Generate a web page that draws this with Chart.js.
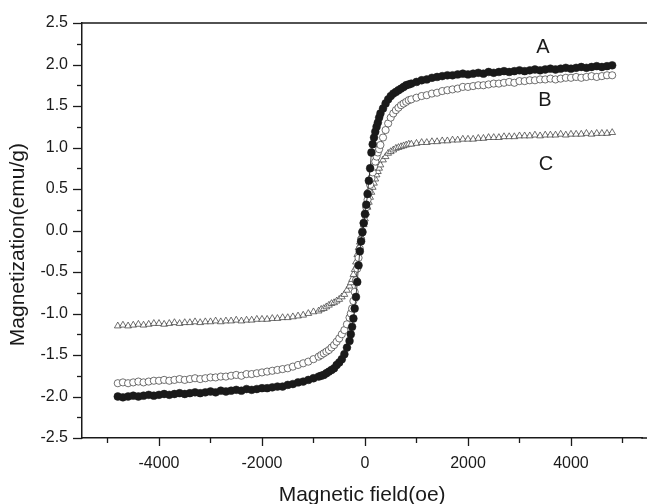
<!DOCTYPE html>
<html>
<head>
<meta charset="utf-8">
<script src="https://cdn.jsdelivr.net/npm/chart.js@4/dist/chart.umd.min.js"></script>
<style>
  html, body { margin: 0; padding: 0; background: #fff; }
  canvas { display: block; }
</style>
</head>
<body>
<canvas id="c" width="647" height="504"></canvas>
<script>
// Magnetic field (Oe) sample positions
const fieldOe = [
  -4800,-4700,-4600,-4500,-4400,-4300,-4200,-4100,-4000,-3900,-3800,-3700,-3600,-3500,-3400,-3300,-3200,-3100,-3000,-2900,
  -2800,-2700,-2600,-2500,-2400,-2300,-2200,-2100,-2000,-1900,-1800,-1700,-1600,-1500,-1400,-1300,-1200,-1100,-1000,
  -900,-850,-800,-750,-700,-650,-600,-550,-500,-450,-400,-350,
  -300,-275,-250,-225,-200,-175,-150,-125,-100,-75,-50,-25,0,25,50,75,100,125,150,175,200,225,250,275,300,
  350,400,450,500,550,600,650,700,750,800,850,900,
  1000,1100,1200,1300,1400,1500,1600,1700,1800,1900,2000,2100,2200,2300,2400,2500,2600,2700,2800,2900,
  3000,3100,3200,3300,3400,3500,3600,3700,3800,3900,4000,4100,4200,4300,4400,4500,4600,4700,4800
];

// Sample A (filled circles), emu/g
const magA = [
  -2.00,-2.01,-2.00,-1.99,-2.00,-1.99,-1.98,-1.99,-1.98,-1.97,-1.98,-1.97,-1.96,-1.97,-1.96,-1.95,-1.96,-1.95,-1.94,-1.95,
  -1.93,-1.94,-1.93,-1.92,-1.93,-1.91,-1.92,-1.91,-1.90,-1.90,-1.89,-1.88,-1.88,-1.86,-1.85,-1.83,-1.82,-1.80,-1.78,
  -1.76,-1.75,-1.74,-1.72,-1.70,-1.68,-1.66,-1.62,-1.59,-1.55,-1.49,-1.41,
  -1.33,-1.25,-1.16,-1.06,-0.94,-0.80,-0.62,-0.42,-0.25,-0.13,-0.02,0.09,0.20,0.31,0.44,0.60,0.75,0.94,1.04,1.12,1.19,1.25,1.30,1.36,1.41,
  1.47,1.53,1.58,1.62,1.65,1.67,1.69,1.71,1.73,1.75,1.76,1.77,
  1.79,1.81,1.82,1.84,1.85,1.86,1.87,1.87,1.88,1.89,1.88,1.89,1.90,1.89,1.91,1.90,1.91,1.92,1.91,1.92,
  1.93,1.92,1.93,1.94,1.93,1.94,1.95,1.94,1.95,1.96,1.95,1.96,1.97,1.96,1.97,1.98,1.97,1.98,1.99
];

// Sample B (open circles), emu/g
const magB = [
  -1.84,-1.83,-1.84,-1.83,-1.82,-1.83,-1.82,-1.81,-1.81,-1.80,-1.81,-1.80,-1.79,-1.80,-1.79,-1.78,-1.79,-1.78,-1.77,-1.77,
  -1.76,-1.76,-1.75,-1.74,-1.75,-1.73,-1.73,-1.72,-1.71,-1.70,-1.69,-1.68,-1.67,-1.66,-1.64,-1.62,-1.60,-1.58,-1.55,
  -1.52,-1.50,-1.48,-1.46,-1.44,-1.41,-1.38,-1.34,-1.30,-1.25,-1.20,-1.13,
  -1.05,-1.00,-0.94,-0.85,-0.74,-0.60,-0.46,-0.33,-0.22,-0.11,-0.01,0.09,0.19,0.28,0.37,0.46,0.55,0.63,0.70,0.77,0.83,0.89,0.94,0.98,1.03,
  1.12,1.21,1.29,1.36,1.41,1.45,1.48,1.51,1.53,1.55,1.57,1.58,
  1.60,1.62,1.63,1.65,1.66,1.68,1.69,1.70,1.71,1.73,1.73,1.74,1.75,1.75,1.76,1.77,1.77,1.78,1.79,1.78,
  1.80,1.80,1.81,1.81,1.82,1.82,1.83,1.82,1.83,1.84,1.84,1.85,1.84,1.85,1.86,1.85,1.86,1.87,1.87
];

// Sample C (open triangles), emu/g
const magC = [
  -1.15,-1.14,-1.15,-1.14,-1.13,-1.14,-1.13,-1.12,-1.12,-1.13,-1.12,-1.11,-1.12,-1.11,-1.11,-1.10,-1.11,-1.10,-1.10,-1.09,
  -1.10,-1.09,-1.09,-1.08,-1.09,-1.08,-1.08,-1.07,-1.07,-1.07,-1.06,-1.06,-1.05,-1.05,-1.04,-1.03,-1.02,-1.00,-0.98,
  -0.97,-0.95,-0.94,-0.92,-0.90,-0.88,-0.87,-0.85,-0.83,-0.80,-0.77,-0.72,
  -0.67,-0.63,-0.59,-0.53,-0.47,-0.38,-0.29,-0.21,-0.14,-0.07,0.00,0.07,0.14,0.21,0.28,0.34,0.40,0.46,0.52,0.57,0.62,0.67,0.71,0.75,0.79,
  0.85,0.89,0.93,0.95,0.97,0.99,1.00,1.01,1.02,1.03,1.04,1.04,
  1.05,1.06,1.06,1.07,1.07,1.08,1.08,1.09,1.09,1.10,1.10,1.10,1.11,1.11,1.12,1.12,1.12,1.13,1.13,1.13,
  1.14,1.14,1.14,1.15,1.14,1.15,1.15,1.15,1.16,1.15,1.16,1.16,1.16,1.17,1.16,1.17,1.17,1.17,1.18
];

const seriesNames = ['A', 'B', 'C'];
const xTickValues = [-5000,-4000,-3000,-2000,-1000,0,1000,2000,3000,4000,5000];
const xTickLabels = ['', '-4000', '', '-2000', '', '0', '', '2000', '', '4000', ''];
const yTickValues = [-2.5,-2.25,-2.0,-1.75,-1.5,-1.25,-1.0,-0.75,-0.5,-0.25,0.0,0.25,0.5,0.75,1.0,1.25,1.5,1.75,2.0,2.25,2.5];
const yTickLabels = ['-2.5','','-2.0','','-1.5','','-1.0','','-0.5','','0.0','','0.5','','1.0','','1.5','','2.0','','2.5'];
const yTitle = 'Magnetization(emu/g)';

// Curve label anchor positions (field, magnetization)
const curveLabels = [
  { text: 'A', x: 3456, y: 2.21 },
  { text: 'B', x: 3495, y: 1.57 },
  { text: 'C', x: 3515, y: 0.79 }
];

function pts(ys) { return fieldOe.map((x, i) => ({ x: x, y: ys[i] })); }

const INK = '#1a1a1a';
const FONT = '"Liberation Sans", Arial, sans-serif';

const framePlugin = {
  id: 'frame',
  afterDraw(chart) {
    const { ctx, chartArea: ca, scales: { x, y } } = chart;
    ctx.save();
    ctx.strokeStyle = INK;
    ctx.lineWidth = 1.5;
    // top frame line and x-axis line run on to the right edge (figure is cropped there)
    ctx.beginPath();
    ctx.moveTo(ca.left, ca.top);
    ctx.lineTo(chart.width, ca.top);
    ctx.moveTo(ca.right - 1, ca.bottom);
    ctx.lineTo(chart.width, ca.bottom);
    ctx.stroke();
    ctx.lineWidth = 1.3;
    xTickValues.forEach((v, i) => {
      const px = Math.round(x.getPixelForValue(v)) + 0.5;
      if (px < ca.left || px > chart.width) return;
      const len = xTickLabels[i] ? 8 : 5;
      ctx.beginPath();
      ctx.moveTo(px, ca.bottom);
      ctx.lineTo(px, ca.bottom + len);
      ctx.stroke();
    });
    yTickValues.forEach((v, i) => {
      const py = Math.round(y.getPixelForValue(v)) + 0.5;
      const len = yTickLabels[i] ? 9 : 5;
      ctx.beginPath();
      ctx.moveTo(ca.left, py);
      ctx.lineTo(ca.left - len, py);
      ctx.stroke();
    });
    ctx.fillStyle = INK;
    ctx.font = '20px ' + FONT;
    ctx.textAlign = 'center';
    ctx.textBaseline = 'middle';
    curveLabels.forEach(l => {
      ctx.fillText(l.text, x.getPixelForValue(l.x), y.getPixelForValue(l.y));
    });
    ctx.font = '21px ' + FONT;
    ctx.translate(18.5, y.getPixelForValue(-0.17));
    ctx.rotate(-Math.PI / 2);
    ctx.fillText(yTitle, 0, 0);
    ctx.restore();
  }
};

new Chart(document.getElementById('c'), {
  type: 'scatter',
  data: {
    datasets: [
      {
        label: seriesNames[0], data: pts(magA), order: 0,
        showLine: true, borderColor: INK, borderWidth: 0.8,
        pointStyle: 'circle', pointRadius: 3.9, pointBackgroundColor: INK,
        pointBorderColor: INK, pointBorderWidth: 0.5
      },
      {
        label: seriesNames[1], data: pts(magB), order: 1,
        showLine: true, borderColor: INK, borderWidth: 0.7,
        pointStyle: 'circle', pointRadius: 3.6, pointBackgroundColor: '#ffffff',
        pointBorderColor: '#333', pointBorderWidth: 0.7
      },
      {
        label: seriesNames[2], data: pts(magC), order: 2,
        showLine: true, borderColor: INK, borderWidth: 0.7,
        pointStyle: 'triangle', pointRadius: 3.9, pointBackgroundColor: '#ffffff',
        pointBorderColor: '#333', pointBorderWidth: 0.7
      }
    ]
  },
  options: {
    responsive: false,
    animation: false,
    devicePixelRatio: 1,
    layout: { padding: { top: 23, right: 0, bottom: 0, left: 0 } },
    plugins: { legend: { display: false }, tooltip: { enabled: false } },
    scales: {
      x: {
        type: 'linear', min: -5495, max: 5385,
        afterBuildTicks(s) { s.ticks = xTickValues.map(v => ({ value: v })); },
        afterFit(s) { s.height = 66; s.paddingLeft = 0; s.paddingRight = 0; },
        border: { display: true, color: INK, width: 1.5 },
        grid: { display: false, drawTicks: false },
        ticks: {
          autoSkip: false, maxRotation: 0, minRotation: 0, padding: 16,
          color: INK, font: { family: FONT, size: 16 },
          callback: (v, i) => xTickLabels[i]
        },
        title: {
          display: true, text: 'Magnetic field(oe)', color: INK,
          font: { family: FONT, size: 21, lineHeight: 1 },
          padding: { top: 0, bottom: -2 }
        }
      },
      y: {
        type: 'linear', min: -2.5, max: 2.5,
        afterBuildTicks(s) { s.ticks = yTickValues.map(v => ({ value: v })); },
        afterFit(s) { s.width = 82; s.paddingTop = 0; s.paddingBottom = 0; },
        border: { display: true, color: INK, width: 1.5 },
        grid: { display: false, drawTicks: false },
        ticks: {
          autoSkip: false, padding: 14,
          color: INK, font: { family: FONT, size: 16 },
          callback: (v, i) => yTickLabels[i]
        },
        title: { display: false }
      }
    }
  },
  plugins: [framePlugin]
});
</script>
</body>
</html>
